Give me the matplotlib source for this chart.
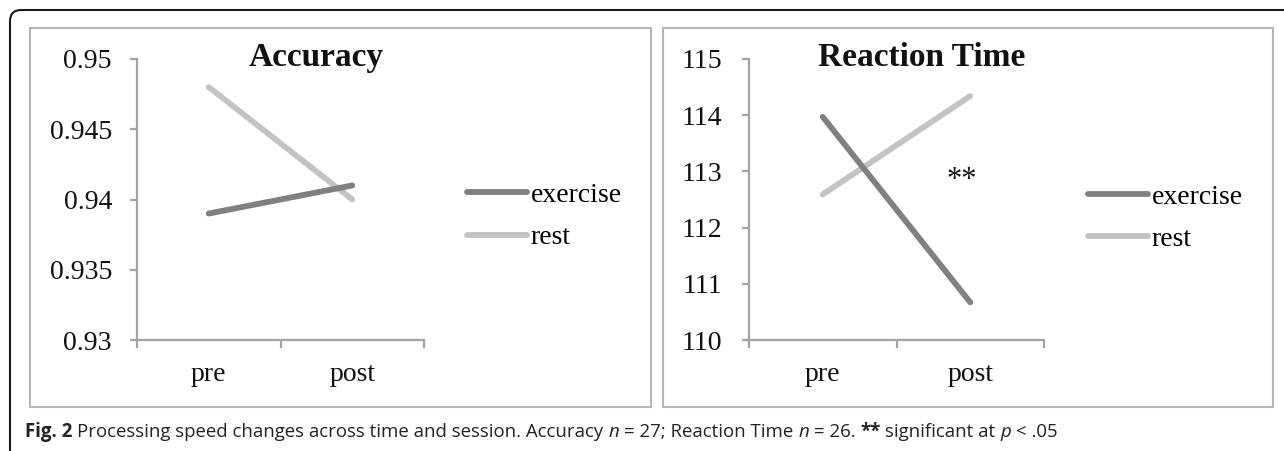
import matplotlib
matplotlib.use('Agg')
import matplotlib.pyplot as plt
from matplotlib.patches import FancyBboxPatch, Rectangle
from matplotlib.transforms import IdentityTransform

# ---------------- data ----------------
sessions = ["pre", "post"]
acc_exercise = [0.939, 0.941]
acc_rest = [0.948, 0.940]
acc_ticks = [0.93, 0.935, 0.94, 0.945, 0.95]
acc_ticklabels = ["0.93", "0.935", "0.94", "0.945", "0.95"]
rt_exercise = [113.97, 110.67]
rt_rest = [112.59, 114.34]
rt_ticks = [110, 111, 112, 113, 114, 115]
rt_ticklabels = ["110", "111", "112", "113", "114", "115"]
series_names = ["exercise", "rest"]
titles = ["Accuracy", "Reaction Time"]
sig_mark = "**"
caption_pieces = [
    ("Fig. 2", "bold", True),
    ("Processing speed changes across time and session. Accuracy", "normal", True),
    ("n", "italic", True),
    ("= 27; Reaction Time", "normal", True),
    ("n", "italic", True),
    ("= 26.", "normal", True),
    ("**", "bold", True),
    ("significant at", "normal", True),
    ("p", "italic", True),
    ("< .05", "normal", False),
]

# ---------------- layout ----------------
W, H = 1284, 451
fig = plt.figure(figsize=(W / 100, H / 100), dpi=100)
fig.patch.set_facecolor("white")

def fx(px):
    return px / W

def fy(py):
    return 1 - py / H

SERIF = "Liberation Serif"
C_EX = "#808080"
C_REST = "#c3c3c3"
C_AX = "#a3a3a3"
C_PANEL = "#b8b8b8"

# outer rounded frame (only top/left visible)
frame = FancyBboxPatch((10, -40), 1400, H - 10 + 40,
                       boxstyle="round,pad=0,rounding_size=11",
                       transform=IdentityTransform(), fill=False,
                       ec="#1a1a1a", lw=1.5, clip_on=False)
fig.add_artist(frame)

# panel borders
for (x0, x1) in [(30, 651), (663, 1273)]:
    r = Rectangle((fx(x0), fy(407)), (x1 - x0) / W, (407 - 28) / H,
                  transform=fig.transFigure, fill=False, ec=C_PANEL, lw=1.5)
    fig.add_artist(r)

def make_panel(axpx, ex, rest, ticks, ticklabels, title, title_pos, legend_px, ypad):
    l, r, t, b = axpx
    ax = fig.add_axes([fx(l), fy(b), (r - l) / W, (b - t) / H])
    xs = list(range(len(sessions)))
    ax.plot(xs, ex, color=C_EX, lw=4.2, solid_capstyle="round",
            label=series_names[0], clip_on=False, zorder=3)
    ax.plot(xs, rest, color=C_REST, lw=4.2, solid_capstyle="round",
            label=series_names[1], clip_on=False, zorder=2)
    ax.set_xlim(-0.5, len(sessions) - 0.5)
    ax.set_ylim(ticks[0], ticks[-1])
    for s in ["top", "right"]:
        ax.spines[s].set_visible(False)
    for s in ["left", "bottom"]:
        ax.spines[s].set_color(C_AX)
        ax.spines[s].set_linewidth(1.6)
    ax.set_yticks(ticks)
    ax.set_yticklabels(ticklabels, fontfamily=SERIF, fontsize=20, color="#111111")
    ax.tick_params(axis="y", direction="out", length=5, width=1.6, color=C_AX, pad=ypad)
    ax.set_xticks([i - 0.5 for i in range(len(sessions) + 1)])
    ax.set_xticklabels([])
    ax.tick_params(axis="x", which="major", direction="out", length=5.8, width=1.6, color=C_AX)
    ax.set_xticks(xs, minor=True)
    ax.set_xticklabels(sessions, minor=True, fontfamily=SERIF, fontsize=20, color="#111111")
    ax.tick_params(axis="x", which="minor", length=0, pad=16)
    ax.set_facecolor("none")
    ax.text(title_pos[0], title_pos[1], title, transform=ax.transAxes,
            ha="center", va="center", fontsize=24, fontweight="bold",
            fontfamily=SERIF, color="#111111")
    ax.legend(loc="center left", bbox_to_anchor=(fx(legend_px[0]), fy(legend_px[1])),
              bbox_transform=fig.transFigure, frameon=False, borderpad=0,
              borderaxespad=0, handlelength=2.16, handletextpad=0.14,
              labelspacing=0.6, prop={"family": SERIF, "size": 20})
    return ax

axL = make_panel((137, 424, 59, 340), acc_exercise, acc_rest, acc_ticks, acc_ticklabels,
                 titles[0], (0.625, 1.005), (467, 216.5), 13)
axR = make_panel((749, 1044, 59, 340), rt_exercise, rt_rest, rt_ticks, rt_ticklabels,
                 titles[1], (0.587, 1.007), (1088, 218), 14.5)
axR.text(0.944, 112.71, sig_mark, ha="center", va="baseline",
         fontsize=22, fontfamily=SERIF, color="#111111")

# ---------------- caption ----------------
renderer = fig.canvas.get_renderer()
CAP_FONT = "Open Sans"

def style_kw(style):
    if style == "bold":
        return dict(fontweight="bold")
    if style == "italic":
        return dict(fontstyle="italic")
    return {}

def width_of(s, size, style):
    t = fig.text(0, 0, s, fontsize=size, fontfamily=CAP_FONT, **style_kw(style))
    w = t.get_window_extent(renderer).width
    t.remove()
    return w

def draw_caption(size, x0, base_y, draw=True):
    sp = width_of("x x", size, "normal") - width_of("xx", size, "normal")
    x = x0
    for s, style, space in caption_pieces:
        t = fig.text(fx(x), fy(base_y), s, fontsize=size, fontfamily=CAP_FONT,
                     va="baseline", ha="left", color="#222222", **style_kw(style))
        w = t.get_window_extent(renderer).width
        if not draw:
            t.remove()
        x += w + (sp if space else 0)
    return x - x0

w12 = draw_caption(12, 25, 437, draw=False)
size = 12 * (1057 - 25) / w12
draw_caption(size, 25, 437)

fig.savefig("out.png", dpi=100)
